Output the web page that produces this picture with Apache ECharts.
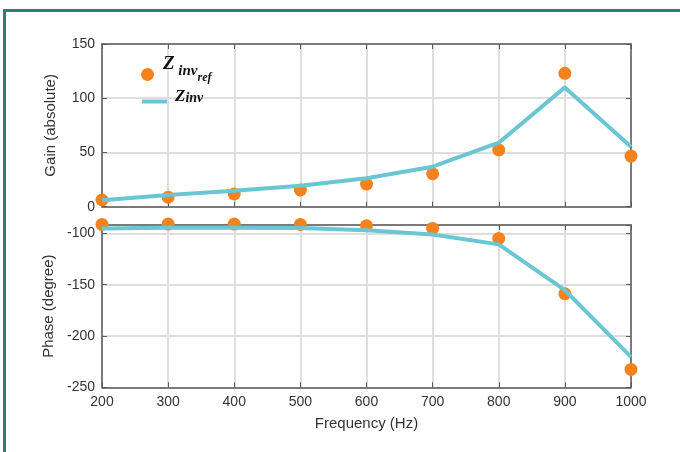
<!DOCTYPE html>
<html>
<head>
<meta charset="utf-8">
<script src="https://cdn.jsdelivr.net/npm/echarts@6/dist/echarts.min.js"></script>
<style>
html,body{margin:0;padding:0;background:#fff;}
#c{width:680px;height:452px;}
</style>
</head>
<body>
<div id="c"></div>
<script>
// ---- data ----
const freq = [200, 300, 400, 500, 600, 700, 800, 900, 1000];
const gainRef = [6.2, 8.7, 11.7, 15.4, 20.9, 30.4, 52.3, 123, 46.7];
const gainModel = [6, 10.8, 14.8, 19.4, 26.2, 36.9, 59, 110, 55.3];
const phaseRef = [-91.2, -90.9, -90.9, -91.2, -92.6, -95.1, -104.9, -158.8, -232.6];
const phaseModel = [-95.1, -94.5, -94.5, -94.8, -96.8, -101, -110.7, -155.3, -220.3];
const xTicks = [200, 1000, 100];      // min, max, step
const gainTicks = [0, 150, 50];
const phaseTicks = [-250, -91.8, 50];

const refName = 'Zinv_ref';
const modelName = 'Zinv';

const zip = (xs, ys) => xs.map((x, i) => [x, ys[i]]);

const AX = '#5a5a5a';
const GRID = '#dedede';
const LBL = '#333333';
const ORANGE = '#F4821E';
const CYAN = '#6BC6D3';
const FONT = '"Liberation Sans", Arial, sans-serif';

function xAxisBase(gridIndex, showLabels) {
  return {
    type: 'value', gridIndex,
    min: xTicks[0], max: xTicks[1], interval: xTicks[2],
    axisLine: { show: true, onZero: false, lineStyle: { color: AX, width: 1.5 } },
    axisTick: { show: true, inside: true, length: 5, lineStyle: { color: AX, width: 1 } },
    axisLabel: { show: showLabels, color: LBL, fontSize: 14, fontFamily: FONT, margin: 8, formatter: v => String(v) },
    splitLine: { show: true, lineStyle: { color: GRID, width: 2 } }
  };
}
function boxX(gridIndex) {
  return {
    type: 'value', gridIndex, position: 'top',
    min: xTicks[0], max: xTicks[1], interval: xTicks[2],
    axisLine: { show: true, onZero: false, lineStyle: { color: AX, width: 1.5 } },
    axisTick: { show: true, inside: true, length: 5, lineStyle: { color: AX } },
    axisLabel: { show: false }, splitLine: { show: false }
  };
}
function yAxisBase(gridIndex, t, name) {
  return {
    type: 'value', gridIndex,
    min: t[0], max: t[1], interval: t[2],
    name, nameLocation: 'middle', nameGap: 44,
    nameTextStyle: { color: LBL, fontSize: 15, fontFamily: FONT },
    axisLine: { show: true, onZero: false, lineStyle: { color: AX, width: 1.5 } },
    axisTick: { show: true, inside: true, length: 5, lineStyle: { color: AX } },
    axisLabel: {
      color: LBL, fontSize: 14, fontFamily: FONT, margin: 7,
      formatter: v => (Math.abs(v % 50) < 1e-6 ? String(v) : '')
    },
    splitLine: { show: true, lineStyle: { color: GRID, width: 2 } }
  };
}
function boxY(gridIndex, t) {
  return {
    type: 'value', gridIndex, position: 'right',
    min: t[0], max: t[1], interval: t[2],
    axisLine: { show: true, onZero: false, lineStyle: { color: AX, width: 1.5 } },
    axisTick: { show: true, inside: true, length: 5, lineStyle: { color: AX } },
    axisLabel: { show: false }, splitLine: { show: false }
  };
}

const chart = echarts.init(document.getElementById('c'), null, { renderer: 'canvas' });
const xB = xAxisBase(1, true);
xB.name = 'Frequency (Hz)';
xB.nameLocation = 'middle';
xB.nameGap = 29;
xB.nameTextStyle = { color: LBL, fontSize: 15, fontFamily: FONT };

const serif = '"Liberation Serif", "Times New Roman", serif';
const tok = (size, padB, padL) => ({ fontFamily: serif, fontWeight: 'bold', fontStyle: 'italic', fontSize: size, lineHeight: size, color: '#111', padding: [0, 0, padB, padL || 0], verticalAlign: 'bottom' });

chart.setOption({
  animation: false,
  backgroundColor: '#fff',
  graphic: [{
    type: 'rect', silent: true,
    shape: { x: 4.5, y: 10.5, width: 720, height: 520 },
    style: { fill: 'none', stroke: '#2f7d76', lineWidth: 3 }
  }],
  grid: [
    { left: 102, top: 44, width: 529, height: 162.7 },
    { left: 102, top: 225, width: 529, height: 162.3 }
  ],
  xAxis: [xAxisBase(0, false), xB, boxX(0), boxX(1)],
  yAxis: [
    yAxisBase(0, gainTicks, 'Gain (absolute)'),
    yAxisBase(1, phaseTicks, 'Phase (degree)'),
    boxY(0, gainTicks), boxY(1, phaseTicks)
  ],
  legend: [
    {
      data: [refName], left: 141, top: 55, orient: 'vertical', padding: 0,
      itemWidth: 13, itemHeight: 13, icon: 'circle',
      formatter: () => '{z|Z}{s| inv}{ss|ref}',
      textStyle: { rich: { z: tok(19, 10, 4), s: tok(15, 5), ss: tok(12, 0) } }
    },
    {
      data: [{ name: modelName, icon: 'rect' }], left: 142, top: 88, orient: 'vertical', padding: 0,
      itemWidth: 25, itemHeight: 4,
      formatter: () => '{z|Z}{s|inv}',
      textStyle: { rich: { z: tok(17, 5, 3), s: tok(14, 5) } }
    }
  ],
  series: [
    { name: refName, type: 'scatter', xAxisIndex: 0, yAxisIndex: 0, data: zip(freq, gainRef),
      symbol: 'circle', symbolSize: 13, itemStyle: { color: ORANGE, opacity: 1 }, clip: false, z: 3 },
    { name: modelName, type: 'line', xAxisIndex: 0, yAxisIndex: 0, data: zip(freq, gainModel),
      symbol: 'none', showSymbol: false, lineStyle: { color: CYAN, width: 4 }, itemStyle: { color: CYAN }, clip: false, z: 4 },
    { name: refName, type: 'scatter', xAxisIndex: 1, yAxisIndex: 1, data: zip(freq, phaseRef),
      symbol: 'circle', symbolSize: 13, itemStyle: { color: ORANGE, opacity: 1 }, clip: false, z: 3 },
    { name: modelName, type: 'line', xAxisIndex: 1, yAxisIndex: 1, data: zip(freq, phaseModel),
      symbol: 'none', showSymbol: false, lineStyle: { color: CYAN, width: 4 }, itemStyle: { color: CYAN }, clip: false, z: 4 }
  ]
});
</script>
</body>
</html>
